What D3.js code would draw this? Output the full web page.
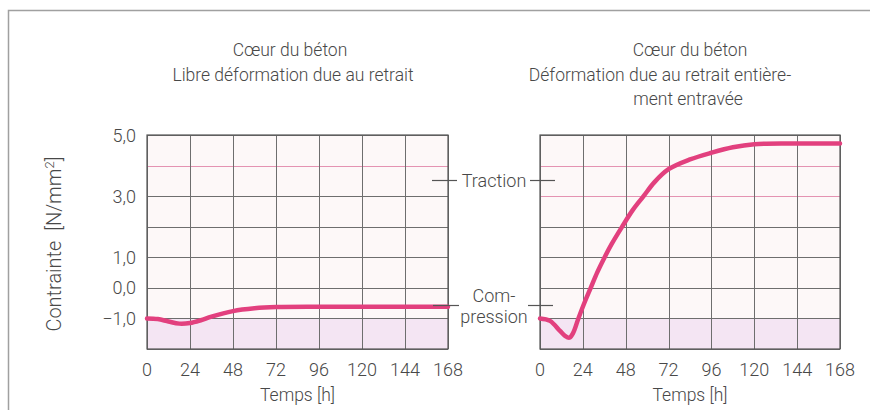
<!DOCTYPE html>
<head>
  <meta charset="utf-8">
  <script src="https://d3js.org/d3.v7.min.js"></script>
  <style>
    body { margin: 0; background: #fff; font-family: Roboto, "Open Sans", sans-serif; }
    text { fill: #484848; font-weight: 300; }
    .grid line { stroke: #6e6e6e; stroke-width: 1; }
    .grid line.pink { stroke: #e493b2; }
    .frame { stroke: #a0a0a0; stroke-width: 1.5; fill: none; }
    .border { stroke: #555; stroke-width: 1.2; fill: none; }
    .curve { stroke: #e2407e; stroke-width: 4.5; fill: none; stroke-linecap: round; }
    .mark { stroke: #555; stroke-width: 1.2; }
  </style>
</head>
<body>
<div id="chart"></div>
<script>
// time ticks [h] and stress ticks [N/mm2]
var hourTicks = [0, 24, 48, 72, 96, 120, 144, 168];
var stressTicks = [5, 3, 1, 0, -1];
var gridLevels = [-2, -1, 0, 1, 2, 3, 4, 5];

// left: free shrinkage
var freeHours  = [0, 6, 12, 18, 24, 30, 36, 48, 60, 72, 96, 120, 144, 168];
var freeStress = [-1.0, -1.02, -1.1, -1.17, -1.15, -1.06, -0.94, -0.76, -0.67, -0.63, -0.62, -0.62, -0.62, -0.62];

// right: fully restrained shrinkage
var restHours  = [0, 5.6, 11.2, 14, 16.4, 18.5, 21.5, 25, 28.4, 32, 36, 40, 46, 52, 58, 64, 72, 84, 96, 108, 120, 144, 168];
var restStress = [-1.0, -1.08, -1.41, -1.57, -1.63, -1.48, -1.0, -0.47, 0.0, 0.5, 0.98, 1.42, 2.0, 2.55, 3.0, 3.45, 3.88, 4.2, 4.42, 4.6, 4.7, 4.72, 4.72];

var W = 870, H = 410;
var svg = d3.select("#chart").append("svg").attr("width", W).attr("height", H);

// outer frame
svg.append("path").attr("class", "frame").attr("d", "M8.5,410 L8.5,10.5 L870,10.5");

var y = d3.scaleLinear().domain([-2, 5]).range([349, 135]);
var fmt = function(v) { return (v < 0 ? "\u2212" : "") + Math.abs(v).toFixed(1).replace(".", ","); };

function panel(x0, x1, hours, stress, pinkLevels, titles, showY) {
  var x = d3.scaleLinear().domain([0, 168]).range([x0, x1]);
  var g = svg.append("g");
  g.append("rect").attr("x", x0).attr("y", y(5)).attr("width", x1 - x0).attr("height", y(-2) - y(5))
    .attr("fill", "#fdf8f8");
  g.append("rect").attr("x", x0).attr("y", y(-1)).attr("width", x1 - x0).attr("height", y(-2) - y(-1))
    .attr("fill", "#f4e5f3");

  var grid = g.append("g").attr("class", "grid");
  grid.selectAll("line.h").data(gridLevels).enter().append("line")
    .attr("class", function(d) { return pinkLevels.indexOf(d) >= 0 ? "h pink" : "h"; })
    .attr("x1", x0).attr("x2", x1)
    .attr("y1", function(d) { return Math.round(y(d)) + 0.5; }).attr("y2", function(d) { return Math.round(y(d)) + 0.5; });
  grid.selectAll("line.v").data(hourTicks).enter().append("line")
    .attr("class", "v")
    .attr("x1", function(d) { return Math.round(x(d)) + 0.5; }).attr("x2", function(d) { return Math.round(x(d)) + 0.5; })
    .attr("y1", y(5)).attr("y2", y(-2));

  g.append("rect").attr("class", "border").attr("x", x0).attr("y", y(5))
    .attr("width", x1 - x0).attr("height", y(-2) - y(5));

  var line = d3.line().x(function(d, i) { return x(hours[i]); }).y(function(d) { return y(d); })
    .curve(d3.curveCatmullRom.alpha(0.5));
  g.append("path").attr("class", "curve").attr("d", line(stress));

  g.selectAll("text.xt").data(hourTicks).enter().append("text")
    .attr("x", function(d) { return x(d); }).attr("y", 376)
    .attr("text-anchor", "middle").attr("font-size", 18).text(function(d) { return d; });
  g.append("text").attr("x", (x0 + x1) / 2).attr("y", 401).attr("text-anchor", "middle")
    .attr("font-size", 17.5).text("Temps [h]");

  if (showY) {
    g.selectAll("text.yt").data(stressTicks).enter().append("text")
      .attr("x", x0 - 11).attr("y", function(d) { return y(d) + 6.5; })
      .attr("text-anchor", "end").attr("font-size", 18).text(fmt);
  }

  titles.forEach(function(t, i) {
    g.append("text").attr("x", t.cx).attr("y", 56 + i * 24.5).attr("text-anchor", "middle")
      .attr("font-size", 17.5).text(t.text);
  });
  return x;
}

panel(147, 448, freeHours, freeStress, [4],
  [{text: "Cœur du béton", cx: 290}, {text: "Libre déformation due au retrait", cx: 293}], true);
panel(540, 840, restHours, restStress, [4, 3],
  [{text: "Cœur du béton", cx: 690}, {text: "Déformation due au retrait entière-", cx: 660},
   {text: "ment entravée", cx: 688}], false);

// y-axis label
svg.append("text").attr("transform", "translate(61,244) rotate(-90)")
  .attr("text-anchor", "middle").attr("font-size", 20)
  .html("Contrainte\u00a0\u00a0[N/mm<tspan baseline-shift='super' font-size='13'>2</tspan>]");

// middle annotations
var marks = [[432, 457, 180.5], [530, 555, 180.5], [433, 459, 305.5], [528, 553, 305.5]];
svg.selectAll("line.mark").data(marks).enter().append("line").attr("class", "mark")
  .attr("x1", function(d) { return d[0]; }).attr("x2", function(d) { return d[1]; })
  .attr("y1", function(d) { return d[2]; }).attr("y2", function(d) { return d[2]; });
svg.append("text").attr("x", 494).attr("y", 187).attr("text-anchor", "middle").attr("font-size", 18).text("Traction");
svg.append("text").attr("x", 494).attr("y", 302).attr("text-anchor", "middle").attr("font-size", 18).text("Com-");
svg.append("text").attr("x", 494).attr("y", 323).attr("text-anchor", "middle").attr("font-size", 18).text("pression");
</script>
</body>
